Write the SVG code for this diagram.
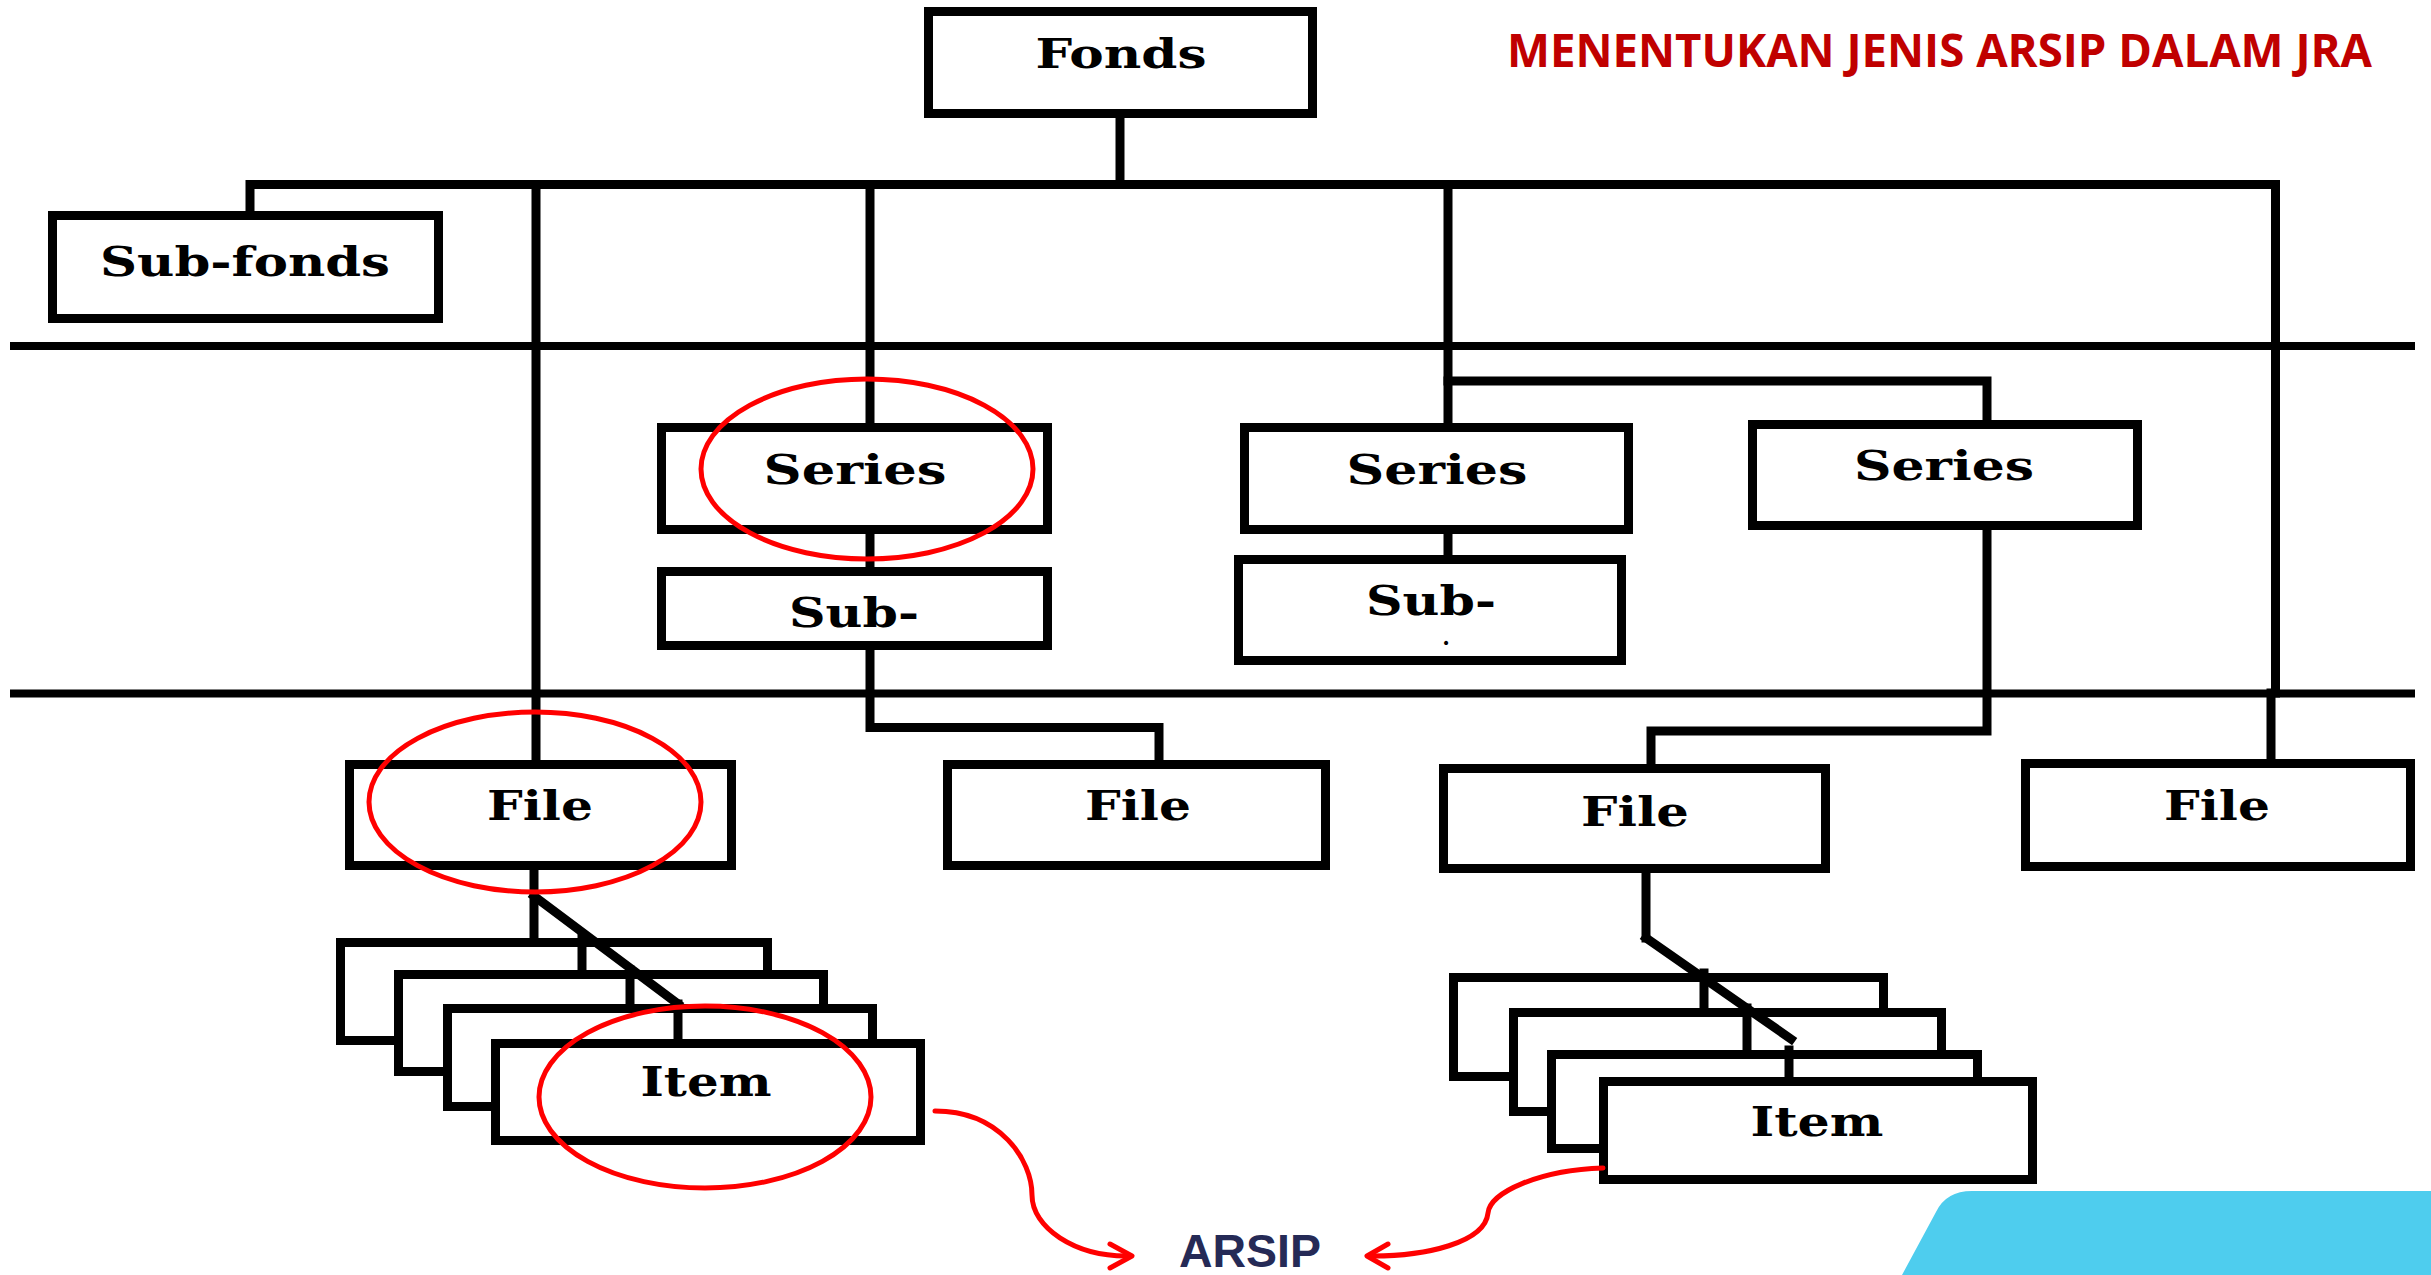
<svg xmlns="http://www.w3.org/2000/svg" width="2431" height="1275" viewBox="0 0 2431 1275">
  <defs>
    <style>
      .box { fill: #ffffff; stroke: #000000; stroke-width: 9; }
      .wire { fill: none; stroke: #000000; stroke-width: 9; stroke-linejoin: miter; stroke-linecap: square; }
      .sep { fill: none; stroke: #000000; stroke-width: 8; }
      .lbl { font-family: "DejaVu Serif", "Liberation Serif", serif; font-weight: bold; font-size: 41px; fill: #000000; text-anchor: middle; }
      .mark { fill: none; stroke: #ff0000; stroke-width: 5; }
      .arrow { fill: none; stroke: #ff0000; stroke-width: 5; stroke-linecap: round; stroke-linejoin: round; }
      .title { font-family: "Open Sans", "Noto Sans", "Liberation Sans", sans-serif; font-weight: bold; font-size: 47px; fill: #c00000; }
      .arsip { font-family: "Liberation Sans", Arial, sans-serif; font-weight: bold; font-size: 47px; fill: #252a56; }
    </style>
  </defs>

  <rect x="0" y="0" width="2431" height="1275" fill="#ffffff"/>

  <!-- level separators -->
  <g id="separators">
    <line class="sep" x1="10" y1="346" x2="2415" y2="346"/>
    <line class="sep" x1="10" y1="693.5" x2="2415" y2="693.5"/>
  </g>

  <!-- nodes -->
  <g id="fonds">
    <rect class="box" x="928.5" y="11.5" width="384" height="102"/>
    <text class="lbl" x="1121" y="68" textLength="171" lengthAdjust="spacingAndGlyphs">Fonds</text>
  </g>
  <g id="sub-fonds">
    <rect class="box" x="52.5" y="215.5" width="386" height="103"/>
    <text class="lbl" x="245" y="276" textLength="290" lengthAdjust="spacingAndGlyphs">Sub-fonds</text>
  </g>
  <g id="series-a">
    <rect class="box" x="661.5" y="427.5" width="386" height="102"/>
    <text class="lbl" x="855" y="484" textLength="183" lengthAdjust="spacingAndGlyphs">Series</text>
  </g>
  <g id="sub-series-a">
    <rect class="box" x="661.5" y="571.5" width="386" height="74"/>
    <text class="lbl" x="854" y="627" textLength="130" lengthAdjust="spacingAndGlyphs">Sub-</text>
  </g>
  <g id="series-b">
    <rect class="box" x="1244.5" y="427.5" width="384" height="102"/>
    <text class="lbl" x="1437" y="484" textLength="181" lengthAdjust="spacingAndGlyphs">Series</text>
  </g>
  <g id="sub-series-b">
    <rect class="box" x="1238.5" y="559.5" width="383" height="101"/>
    <text class="lbl" x="1431" y="615"><tspan textLength="130" lengthAdjust="spacingAndGlyphs">Sub-</tspan><tspan x="1446" y="645" font-size="22px">.</tspan></text>
  </g>
  <g id="series-c">
    <rect class="box" x="1752.5" y="424.5" width="385" height="101"/>
    <text class="lbl" x="1944" y="480" textLength="180" lengthAdjust="spacingAndGlyphs">Series</text>
  </g>
  <g id="file-a">
    <rect class="box" x="349.5" y="764.5" width="382" height="101"/>
    <text class="lbl" x="540" y="820" textLength="106" lengthAdjust="spacingAndGlyphs">File</text>
  </g>
  <g id="file-b">
    <rect class="box" x="947.5" y="764.5" width="378" height="101"/>
    <text class="lbl" x="1138" y="820" textLength="106" lengthAdjust="spacingAndGlyphs">File</text>
  </g>
  <g id="file-c">
    <rect class="box" x="1443.5" y="768.5" width="382" height="100"/>
    <text class="lbl" x="1635" y="826" textLength="108" lengthAdjust="spacingAndGlyphs">File</text>
  </g>
  <g id="file-d">
    <rect class="box" x="2025.5" y="763.5" width="385" height="103"/>
    <text class="lbl" x="2217" y="820" textLength="106" lengthAdjust="spacingAndGlyphs">File</text>
  </g>
  <g id="items-a">
    <rect class="box" x="340.5" y="942.5" width="427" height="98"/>
    <rect class="box" x="398.5" y="974.5" width="425" height="97"/>
    <rect class="box" x="447.5" y="1008.5" width="425" height="98"/>
    <rect class="box" x="495.5" y="1043.5" width="425" height="97"/>
    <text class="lbl" x="706" y="1096" textLength="131" lengthAdjust="spacingAndGlyphs">Item</text>
  </g>
  <g id="items-c">
    <rect class="box" x="1453.5" y="977.5" width="430" height="99"/>
    <rect class="box" x="1513.5" y="1012.5" width="428" height="99"/>
    <rect class="box" x="1551.5" y="1054.5" width="426" height="94"/>
    <rect class="box" x="1603.5" y="1081.5" width="429" height="98"/>
    <text class="lbl" x="1817" y="1136" textLength="133" lengthAdjust="spacingAndGlyphs">Item</text>
  </g>

  <!-- connectors -->
  <g id="connectors">
    <line class="wire" x1="1120" y1="118" x2="1120" y2="184.5"/>
    <polyline class="wire" points="250,211 250,184.5 2275.5,184.5 2275.5,693 2271,693 2271,759"/>
    <line class="wire" x1="536" y1="184.5" x2="536" y2="760"/>
    <line class="wire" x1="870" y1="184.5" x2="870" y2="423"/>
    <line class="wire" x1="870" y1="534" x2="870" y2="567"/>
    <polyline class="wire" points="870,650 870,727.5 1159,727.5 1159,760"/>
    <line class="wire" x1="1448" y1="184.5" x2="1448" y2="423"/>
    <polyline class="wire" points="1448,381 1987,381 1987,420"/>
    <line class="wire" x1="1448" y1="534" x2="1448" y2="555"/>
    <polyline class="wire" points="1987,530 1987,731 1651,731 1651,764"/>
    <!-- file to item stack, left -->
    <line class="wire" x1="534" y1="870" x2="534" y2="938"/>
    <line class="wire" x1="534" y1="896" x2="678" y2="1004" stroke-linecap="butt"/>
    <line class="wire" x1="582" y1="938" x2="582" y2="970"/>
    <line class="wire" x1="630" y1="970" x2="630" y2="1004"/>
    <line class="wire" x1="678" y1="1004" x2="678" y2="1039"/>
    <!-- file to item stack, right -->
    <line class="wire" x1="1646" y1="873" x2="1646" y2="938"/>
    <line class="wire" x1="1646" y1="938" x2="1791" y2="1039" stroke-linecap="butt"/>
    <line class="wire" x1="1704" y1="973" x2="1704" y2="1008"/>
    <line class="wire" x1="1747" y1="1008" x2="1747" y2="1050"/>
    <line class="wire" x1="1789" y1="1050" x2="1789" y2="1077"/>
  </g>

  <!-- highlighted levels -->
  <g id="highlights">
    <ellipse class="mark" cx="867" cy="469" rx="166" ry="90"/>
    <ellipse class="mark" cx="535" cy="802" rx="166" ry="90"/>
    <ellipse class="mark" cx="705" cy="1097" rx="166" ry="91"/>
  </g>

  <!-- pointers to the ARSIP label -->
  <g id="pointers">
    <path class="arrow" d="M935,1111 C1000,1111 1032,1160 1032,1195 C1032,1228 1075,1256 1126,1256"/>
    <path class="arrow" d="M1110,1244 L1132,1256 L1110,1268"/>
    <path class="arrow" d="M1603,1168 C1540,1170 1490,1192 1488,1213 C1485,1243 1425,1256 1373,1256"/>
    <path class="arrow" d="M1388,1244 L1367,1256 L1388,1268"/>
  </g>

  <g id="arsip">
    <text class="arsip" x="1179" y="1267" textLength="142" lengthAdjust="spacingAndGlyphs">ARSIP</text>
  </g>

  <g id="heading">
    <text class="title" x="1507" y="67" textLength="865" lengthAdjust="spacingAndGlyphs">MENENTUKAN JENIS ARSIP DALAM JRA</text>
  </g>

  <!-- corner accent -->
  <path d="M1902,1275 L1936,1212 Q1946,1191 1972,1191 L2431,1191 L2431,1275 Z" fill="#4ecdee"/>
</svg>
